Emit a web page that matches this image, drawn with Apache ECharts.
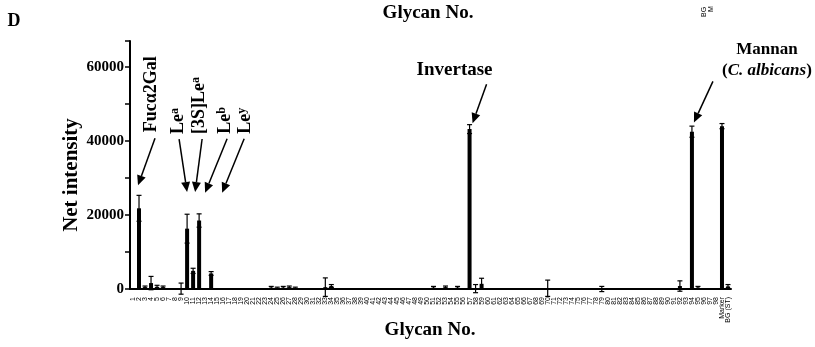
<!DOCTYPE html>
<html>
<head>
<meta charset="utf-8">
<script src="https://cdn.jsdelivr.net/npm/echarts@6/dist/echarts.min.js"></script>
<style>
  html, body { margin: 0; padding: 0; background: #fff; }
  #chart { width: 815px; height: 347px; }
</style>
</head>
<body>
<div id="chart"></div>
<script>
// glycan positions on the slide: 1..98, then marker and background
var glycanNos = [];
for (var n = 1; n <= 98; n++) glycanNos.push(String(n));
glycanNos.push('Marker', 'BG (ST)');

// positions with a visible signal (all others read as 0)
var signalNos    = ['2', '3', '4', '5', '6', '9', '10', '11', '12', '14', '24', '25', '26', '27', '28', '33', '34', '51', '53', '55', '57', '58', '59', '70', '79', '92', '94', '95', 'Marker', 'BG (ST)'];
var signalValues = [21800, 500, 1600, 600, 500, 100, 16300, 4900, 18500, 4200, 400, 300, 400, 500, 300, 500, 800, 400, 500, 400, 43200, 100, 1400, 200, 0, 800, 42500, 400, 44000, 700];
var signalErrors = [3500, 300, 1800, 400, 300, 1500, 3900, 700, 1800, 500, 300, 200, 300, 300, 200, 2500, 400, 300, 300, 300, 1200, 1100, 1500, 2200, 700, 1400, 1500, 300, 700, 500];

var yTicks = [0, 20000, 40000, 60000];

var serif = '"Liberation Serif", "Times New Roman", serif';
var sans = '"Liberation Sans", Arial, sans-serif';

var barData = glycanNos.map(function (no) {
  var k = signalNos.indexOf(no);
  return k < 0 ? 0 : signalValues[k];
});
var errData = signalNos.map(function (no, k) {
  return [glycanNos.indexOf(no), signalValues[k], signalErrors[k]];
});

var chart = echarts.init(document.getElementById('chart'));

chart.setOption({
  animation: false,
  backgroundColor: '#fff',
  grid: { left: 130, right: 84, top: 41, bottom: 58 },
  xAxis: {
    type: 'category',
    data: glycanNos,
    axisLine: { lineStyle: { color: '#000', width: 2 } },
    axisTick: { inside: true, length: 4, lineStyle: { color: '#000', width: 1 } },
    axisLabel: {
      interval: 0,
      rotate: 90,
      margin: 8,
      fontSize: 7,
      color: '#000',
      fontFamily: sans
    },
    splitLine: { show: false }
  },
  yAxis: {
    type: 'value',
    min: 0,
    max: 67000,
    interval: 10000,
    axisLine: { show: true, lineStyle: { color: '#000', width: 2 } },
    axisTick: { show: true, length: 5, lineStyle: { color: '#000', width: 1.5 } },
    axisLabel: {
      color: '#000',
      fontSize: 15,
      fontWeight: 'bold',
      fontFamily: serif,
      margin: 6,
      formatter: function (v) { return yTicks.indexOf(v) >= 0 ? String(v) : ''; }
    },
    splitLine: { show: false }
  },
  series: [
    {
      type: 'bar',
      data: barData,
      barWidth: 4,
      itemStyle: { color: '#000' }
    },
    {
      type: 'custom',
      data: errData,
      encode: { x: 0, y: 1 },
      z: 3,
      renderItem: function (params, api) {
        var i = api.value(0), v = api.value(1), e = api.value(2);
        var top = api.coord([i, v + e]);
        var bot = api.coord([i, v - e]);
        var hw = 2.5;
        var st = { stroke: '#000', lineWidth: 1.2 };
        return {
          type: 'group',
          children: [
            { type: 'line', shape: { x1: top[0], y1: top[1], x2: bot[0], y2: bot[1] }, style: st },
            { type: 'line', shape: { x1: top[0] - hw, y1: top[1], x2: top[0] + hw, y2: top[1] }, style: st },
            { type: 'line', shape: { x1: bot[0] - hw, y1: bot[1], x2: bot[0] + hw, y2: bot[1] }, style: st }
          ]
        };
      }
    }
  ]
});

// annotations, placed from the axis scales
function px(no, val) {
  return chart.convertToPixel({ xAxisIndex: 0, yAxisIndex: 0 }, [glycanNos.indexOf(no), val]);
}

function richSet(size) {
  return {
    b: { fontSize: size, fontWeight: 'bold', fontFamily: serif, fill: '#000' },
    s: { fontSize: Math.round(size * 0.65), fontWeight: 'bold', fontFamily: serif, fill: '#000', verticalAlign: 'top' },
    i: { fontSize: size, fontWeight: 'bold', fontStyle: 'italic', fontFamily: serif, fill: '#000' }
  };
}

var notes = [
  { no: '2',  val: 28000, dx: -1, start: [17, -47], text: '{b|Fucα2Gal}', at: [13, -53], size: 18, vertical: true },
  { no: '10', val: 26200, dx: 0,  start: [-8, -53], text: '{b|Le}{s|a}', at: [-9, -58], size: 18, vertical: true },
  { no: '11', val: 26200, dx: 2,  start: [7, -53],  text: '{b|[3S]Le}{s|a}', at: [4, -58], size: 18, vertical: true },
  { no: '12', val: 26000, dx: 6,  start: [22, -54], text: '{b|Le}{s|b}', at: [20, -59], size: 18, vertical: true },
  { no: '16', val: 26000, dx: -1, start: [22, -54], text: '{b|Le}{s|y}', at: [23, -59], size: 18, vertical: true },
  { no: '57', val: 44800, dx: 3,  start: [14, -39], text: '{b|Invertase}', at: [-18, -53], size: 19 },
  { no: '94', val: 45000, dx: 2,  start: [19, -41], text: '{b|Mannan}', at: [73, -73], size: 17 },
  { no: '94', val: 45000, dx: 2,  start: null,      text: '{b|(}{i|C. albicans}{b|)}', at: [73, -52], size: 17 }
];

var graphics = [];
notes.forEach(function (nt) {
  var p = px(nt.no, nt.val);
  var tx = p[0] + nt.dx, ty = p[1];
  if (nt.start) {
    var sx = tx + nt.start[0], sy = ty + nt.start[1];
    var ang = Math.atan2(ty - sy, tx - sx);
    var L = 10, W = 4.5;
    var bx = tx - L * Math.cos(ang), by = ty - L * Math.sin(ang);
    var nx = -Math.sin(ang), ny = Math.cos(ang);
    graphics.push({
      type: 'line',
      shape: { x1: sx, y1: sy, x2: bx, y2: by },
      style: { stroke: '#000', lineWidth: 1.5 }
    });
    graphics.push({
      type: 'polygon',
      shape: { points: [[tx, ty], [bx + W * nx, by + W * ny], [bx - W * nx, by - W * ny]] },
      style: { fill: '#000' }
    });
  }
  graphics.push({
    type: 'text',
    x: tx + nt.at[0],
    y: ty + nt.at[1],
    rotation: nt.vertical ? Math.PI / 2 : 0,
    style: {
      text: nt.text,
      rich: richSet(nt.size),
      align: nt.vertical ? 'left' : 'center',
      verticalAlign: 'middle'
    }
  });
});

var titleFont = { fontSize: 19, fontWeight: 'bold', fontFamily: serif, fill: '#000' };
graphics.push({ type: 'text', x: 72, y: 175, rotation: Math.PI / 2, style: Object.assign({ text: 'Net intensity', align: 'center', verticalAlign: 'middle' }, titleFont, { fontSize: 21 }) });
graphics.push({ type: 'text', x: 14, y: 21, style: Object.assign({ text: 'D', align: 'center', verticalAlign: 'middle' }, titleFont, { fontSize: 18 }) });
graphics.push({ type: 'text', x: 428, y: 13, style: Object.assign({ text: 'Glycan No.', align: 'center', verticalAlign: 'middle' }, titleFont) });
graphics.push({ type: 'text', x: 430, y: 330, style: Object.assign({ text: 'Glycan No.', align: 'center', verticalAlign: 'middle' }, titleFont) });
// cut-off axis labels of the panel above
graphics.push({ type: 'text', x: 704, y: 17, rotation: Math.PI / 2, style: { text: 'BG', fontSize: 7, fontFamily: sans, fill: '#000', align: 'left', verticalAlign: 'middle' } });
graphics.push({ type: 'text', x: 711, y: 12, rotation: Math.PI / 2, style: { text: 'M', fontSize: 7, fontFamily: sans, fill: '#000', align: 'left', verticalAlign: 'middle' } });

chart.setOption({ graphic: graphics });
</script>
</body>
</html>
